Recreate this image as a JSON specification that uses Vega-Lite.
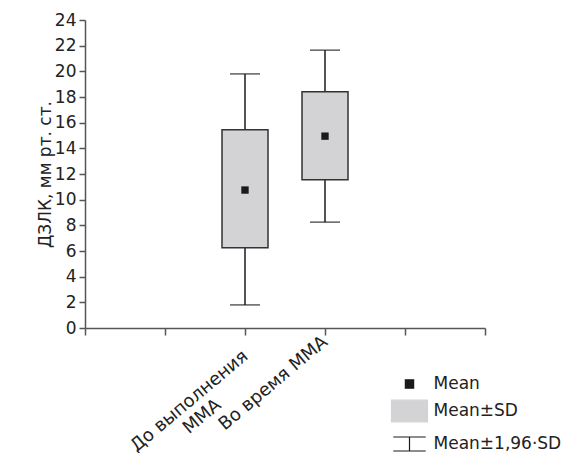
{
  "$schema": "https://vega.github.io/schema/vega-lite/v6.json",
  "width": 400,
  "height": 308,
  "autosize": {"type": "none"},
  "padding": {"left": 85, "top": 20, "right": 101, "bottom": 125},
  "background": "white",
  "config": {
    "view": {"stroke": null},
    "font": "DejaVu Sans",
    "axis": {
      "labelFont": "DejaVu Sans", "titleFont": "DejaVu Sans",
      "labelColor": "#222", "titleColor": "#222",
      "domainColor": "#555", "tickColor": "#555",
      "domainWidth": 1.5, "tickWidth": 1.5, "grid": false,
      "labelFontSize": 17, "titleFontSize": 17, "titleFontWeight": "normal"
    },
    "axisY": {"labelOverlap": false, "tickSize": 6, "labelPadding": 3, "titlePadding": 0},
    "legend": {
      "orient": "none", "legendX": 305.5, "legendY": 345,
      "symbolSize": 1296, "labelFontSize": 17, "labelFont": "DejaVu Sans",
      "labelColor": "#222", "rowPadding": -7.5, "labelOffset": 5, "padding": 0,
      "symbolStrokeColor": "#222", "symbolStrokeWidth": 1.2
    }
  },
  "data": {"values": [
    {"group": "До выполнения ММА", "mean": 10.75, "sd_lo": 6.25, "sd_hi": 15.45, "ci_lo": 1.8, "ci_hi": 19.8},
    {"group": "Во время ММА", "mean": 14.95, "sd_lo": 11.55, "sd_hi": 18.4, "ci_lo": 8.25, "ci_hi": 21.65}
  ]},
  "encoding": {
    "x": {
      "field": "group", "type": "nominal",
      "scale": {"type": "point", "domain": ["_a", "_b", "До выполнения ММА", "Во время ММА", "_c", "_d"], "padding": 0},
      "axis": {
        "title": null, "tickSize": 7, "labelAngle": -40, "labelFontSize": 18,
        "labelAlign": "center", "labelBaseline": "middle",
        "labelExpr": "datum.value == 'До выполнения ММА' ? ['До выполнения', 'ММА'] : (datum.value == 'Во время ММА' ? datum.value : '')",
        "labelOffset": {"condition": {"test": "datum.value == 'До выполнения ММА'", "value": -56}, "value": -52},
        "labelPadding": {"condition": {"test": "datum.value == 'До выполнения ММА'", "value": 66}, "value": 48},
        "labelLineHeight": 20, "labelLimit": 0, "labelOverlap": false, "labelBound": false
      }
    }
  },
  "layer": [
    {
      "mark": {"type": "rule", "strokeWidth": 1.5},
      "encoding": {
        "y": {"field": "ci_lo", "type": "quantitative", "scale": {"domain": [0, 24], "nice": false},
              "axis": {"title": "ДЗЛК, мм рт. ст.", "values": [0,2,4,6,8,10,12,14,16,18,20,22,24], "labelOverlap": false}},
        "y2": {"field": "ci_hi"},
        "color": {"datum": "Mean±1,96·SD", "legend": {"title": null,
            "encode": {"symbols": {"update": {"fill": {"scale": "color", "field": "value"}, "stroke": {"value": "#222"}, "strokeWidth": {"value": 1.2}, "opacity": {"value": 1}}}}}}
      }
    },
    {
      "mark": {"type": "tick", "thickness": 1.5},
      "encoding": {
        "y": {"field": "ci_lo", "type": "quantitative",
              "axis": {"title": "ДЗЛК, мм рт. ст.", "values": [0,2,4,6,8,10,12,14,16,18,20,22,24], "labelOverlap": false}},
        "size": {"value": 30},
        "color": {"datum": "Mean±1,96·SD", "legend": {"title": null,
            "encode": {"symbols": {"update": {"fill": {"scale": "color", "field": "value"}, "stroke": {"value": "#222"}, "strokeWidth": {"value": 1.2}, "opacity": {"value": 1}}}}}}
      }
    },
    {
      "mark": {"type": "tick", "thickness": 1.5},
      "encoding": {
        "y": {"field": "ci_hi", "type": "quantitative",
              "axis": {"title": "ДЗЛК, мм рт. ст.", "values": [0,2,4,6,8,10,12,14,16,18,20,22,24], "labelOverlap": false}},
        "size": {"value": 30},
        "color": {"datum": "Mean±1,96·SD", "legend": {"title": null,
            "encode": {"symbols": {"update": {"fill": {"scale": "color", "field": "value"}, "stroke": {"value": "#222"}, "strokeWidth": {"value": 1.2}, "opacity": {"value": 1}}}}}}
      }
    },
    {
      "mark": {"type": "bar", "width": 46, "stroke": "#333", "strokeWidth": 1.5},
      "encoding": {
        "y": {"field": "sd_lo", "type": "quantitative",
              "axis": {"title": "ДЗЛК, мм рт. ст.", "values": [0,2,4,6,8,10,12,14,16,18,20,22,24], "labelOverlap": false}},
        "y2": {"field": "sd_hi"},
        "color": {"datum": "Mean±SD", "legend": {"title": null,
            "encode": {"symbols": {"update": {"fill": {"scale": "color", "field": "value"}, "stroke": {"value": "#222"}, "strokeWidth": {"value": 1.2}, "opacity": {"value": 1}}}}}}
      }
    },
    {
      "mark": {"type": "point", "filled": true, "opacity": 1, "size": 1024, "strokeWidth": 0},
      "encoding": {
        "y": {"field": "mean", "type": "quantitative",
              "axis": {"title": "ДЗЛК, мм рт. ст.", "values": [0,2,4,6,8,10,12,14,16,18,20,22,24], "labelOverlap": false}},
        "shape": {"datum": "Mean",
          "scale": {"domain": ["Mean", "Mean±SD", "Mean±1,96·SD"],
                    "range": ["M-0.23,-0.23H0.23V0.23H-0.23Z", "M-1,-0.6H1V0.6H-1Z", "M-0.9,-0.39H0.9M0,-0.39V0.39M-0.9,0.39H0.9"]},
          "legend": {"title": null,
            "encode": {"symbols": {"update": {"fill": {"scale": "color", "field": "value"}, "stroke": {"value": "#222"}, "strokeWidth": {"value": 1.2}, "opacity": {"value": 1}}}}}},
        "color": {"datum": "Mean",
          "scale": {"domain": ["Mean", "Mean±SD", "Mean±1,96·SD"], "range": ["#1a1a1a", "#d3d3d5", "#1a1a1a"]},
          "legend": {"title": null,
            "encode": {"symbols": {"update": {"fill": {"scale": "color", "field": "value"}, "stroke": {"value": "#222"}, "strokeWidth": {"value": 1.2}, "opacity": {"value": 1}}}}}}
      }
    }
  ]
}
